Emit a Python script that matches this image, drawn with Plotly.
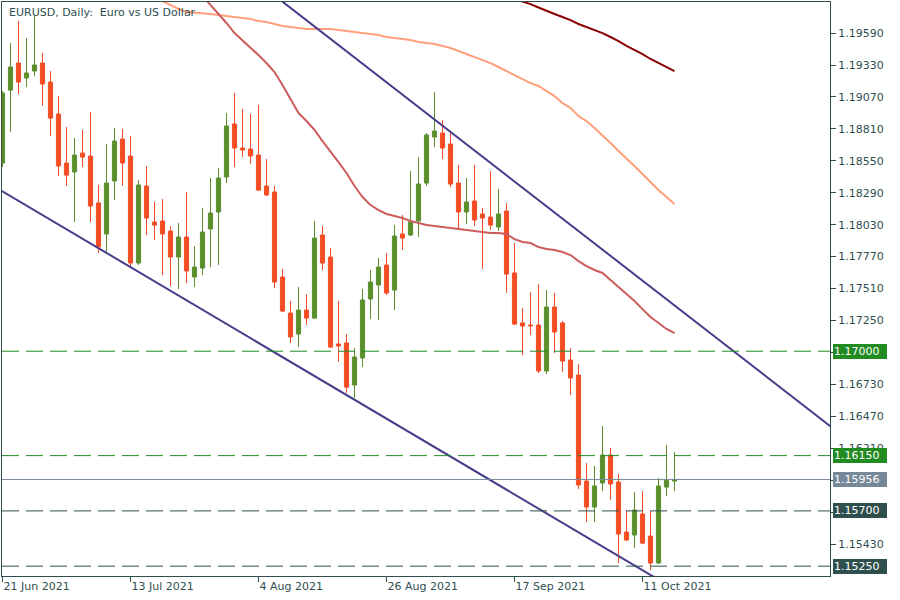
import plotly.graph_objects as go

# ---------------- data ----------------
bar_index = list(range(85))

opens = [1.18532, 1.19126, 1.19346, 1.19224, 1.19281, 1.19346, 1.19191, 1.18931, 1.18532, 1.18459,
         1.18613, 1.18589, 1.18207, 1.17954, 1.18386, 1.18727, 1.18589, 1.17718, 1.18345, 1.18052,
         1.18060, 1.17978, 1.17767, 1.17930, 1.17604, 1.17677, 1.17995, 1.18133, 1.18418, 1.18850,
         1.18654, 1.18646, 1.18597, 1.18345, 1.18296, 1.17604, 1.17311, 1.17140, 1.17335, 1.17270,
         1.17946, 1.17767, 1.17059, 1.17067, 1.16725, 1.16945, 1.17425, 1.17539, 1.17702, 1.17498,
         1.17954, 1.17946, 1.18060, 1.18369, 1.18744, 1.18776, 1.18687, 1.18369, 1.18133, 1.18223,
         1.18117, 1.18092, 1.18011, 1.18141, 1.17637, 1.17230, 1.17213, 1.17213, 1.16839, 1.17360,
         1.17230, 1.16928, 1.16806, 1.15943, 1.15732, 1.15927, 1.16155, 1.15935, 1.15528, 1.15504,
         1.15675, 1.15495, 1.15276, 1.15894, 1.15943]

highs = [1.19118, 1.19509, 1.19688, 1.19550, 1.19737, 1.19428, 1.19281, 1.19077, 1.18825, 1.18736,
         1.18801, 1.18947, 1.18353, 1.18687, 1.18817, 1.18809, 1.18752, 1.18394, 1.18508, 1.18215,
         1.18239, 1.18019, 1.18044, 1.18296, 1.17856, 1.18166, 1.18410, 1.18491, 1.18939, 1.19102,
         1.18972, 1.18931, 1.19004, 1.18565, 1.18345, 1.17669, 1.17409, 1.17523, 1.17466, 1.18060,
         1.18019, 1.17840, 1.17409, 1.17140, 1.17026, 1.17506, 1.17661, 1.17759, 1.17799, 1.18027,
         1.18109, 1.18467, 1.18581, 1.18776, 1.19110, 1.18882, 1.18784, 1.18516, 1.18410, 1.18516,
         1.18166, 1.18467, 1.18320, 1.18207, 1.17881, 1.17352, 1.17482, 1.17547, 1.17498, 1.17474,
         1.17246, 1.17026, 1.16896, 1.16090, 1.16065, 1.16391, 1.16212, 1.16000, 1.15707, 1.15854,
         1.15862, 1.15699, 1.15968, 1.16236, 1.16179]

lows = [1.18500, 1.18784, 1.19094, 1.19151, 1.19240, 1.18996, 1.18752, 1.18426, 1.18345, 1.18052,
        1.18500, 1.18052, 1.17799, 1.17808, 1.18231, 1.18345, 1.17693, 1.17702, 1.17946, 1.17905,
        1.17620, 1.17531, 1.17506, 1.17555, 1.17523, 1.17620, 1.17685, 1.17702, 1.18369, 1.18500,
        1.18581, 1.18524, 1.18304, 1.18263, 1.17514, 1.17319, 1.17067, 1.17034, 1.17213, 1.17262,
        1.17661, 1.17026, 1.16912, 1.16660, 1.16619, 1.16871, 1.17262, 1.17254, 1.17458, 1.17335,
        1.17824, 1.17938, 1.17930, 1.18345, 1.18662, 1.18565, 1.18337, 1.17995, 1.18035, 1.18019,
        1.17669, 1.17987, 1.17978, 1.17474, 1.17213, 1.16969, 1.17132, 1.16822, 1.16814, 1.16985,
        1.16831, 1.16643, 1.15878, 1.15609, 1.15609, 1.15862, 1.15789, 1.15276, 1.15455, 1.15398,
        1.15430, 1.15219, 1.15268, 1.15821, 1.15862]

closes = [1.19102, 1.19314, 1.19191, 1.19265, 1.19330, 1.19175, 1.18898, 1.18508, 1.18434, 1.18597,
          1.18581, 1.18182, 1.17848, 1.18369, 1.18711, 1.18532, 1.17718, 1.18353, 1.18084, 1.18027,
          1.17954, 1.17767, 1.17930, 1.17653, 1.17685, 1.17970, 1.18125, 1.18410, 1.18833, 1.18654,
          1.18638, 1.18589, 1.18312, 1.18272, 1.17563, 1.17327, 1.17116, 1.17335, 1.17270, 1.17921,
          1.17718, 1.17034, 1.17042, 1.16708, 1.16953, 1.17417, 1.17563, 1.17685, 1.17474, 1.17938,
          1.17921, 1.18052, 1.18361, 1.18760, 1.18793, 1.18654, 1.18361, 1.18133, 1.18215, 1.18068,
          1.18084, 1.18027, 1.18117, 1.17628, 1.17221, 1.17205, 1.17205, 1.16839, 1.17360, 1.17156,
          1.16920, 1.16782, 1.15911, 1.15732, 1.15903, 1.16155, 1.15919, 1.15512, 1.15463, 1.15707,
          1.15438, 1.15276, 1.15903, 1.15951, 1.15956]

# moving averages (visible parts)
ma_slow_bars = list(range(64, 85))
ma_slow = [1.19867, 1.19847, 1.19826, 1.19798, 1.19769, 1.19745, 1.19721, 1.19696, 1.19664, 1.19639,
           1.19615, 1.19590, 1.19558, 1.19525, 1.19485, 1.19452, 1.19419, 1.19379, 1.19346, 1.19314,
           1.19281]

ma_mid_bars = list(range(20, 85))
ma_mid = [1.19851, 1.19818, 1.19786, 1.19761, 1.19757, 1.19753, 1.19745, 1.19737, 1.19729, 1.19721,
          1.19712, 1.19704, 1.19688, 1.19680, 1.19664, 1.19647, 1.19639, 1.19631, 1.19623, 1.19623,
          1.19623, 1.19623, 1.19615, 1.19607, 1.19598, 1.19590, 1.19582, 1.19574, 1.19558, 1.19550,
          1.19542, 1.19533, 1.19517, 1.19509, 1.19501, 1.19485, 1.19468, 1.19444, 1.19419, 1.19395,
          1.19371, 1.19346, 1.19314, 1.19281, 1.19248, 1.19216, 1.19183, 1.19159, 1.19118, 1.19077,
          1.19020, 1.18980, 1.18915, 1.18874, 1.18817, 1.18760, 1.18695, 1.18630, 1.18573, 1.18508,
          1.18443, 1.18377, 1.18312, 1.18255, 1.18198]

ma_fast_bars = list(range(25, 85))
ma_fast = [1.19892, 1.19818, 1.19753, 1.19672, 1.19590, 1.19533, 1.19476, 1.19411, 1.19346, 1.19273,
           1.19167, 1.19053, 1.18939, 1.18874, 1.18801, 1.18711, 1.18630, 1.18540, 1.18451, 1.18345,
           1.18255, 1.18190, 1.18149, 1.18117, 1.18101, 1.18084, 1.18060, 1.18044, 1.18027, 1.18019,
           1.18011, 1.18003, 1.17995, 1.17987, 1.17978, 1.17970, 1.17962, 1.17962, 1.17954, 1.17913,
           1.17889, 1.17881, 1.17848, 1.17832, 1.17824, 1.17808, 1.17783, 1.17734, 1.17693, 1.17661,
           1.17637, 1.17580, 1.17523, 1.17466, 1.17409, 1.17343, 1.17278, 1.17230, 1.17181, 1.17148]

# trend lines (anchor bar, anchor price)
upper_trend_bars = [35, 104]
upper_trend_prices = [1.19846, 1.16363]
lower_trend_bars = [-1, 82]
lower_trend_prices = [1.18340, 1.15140]

# horizontal levels
levels_green = [1.17000, 1.16150]
levels_dark = [1.15700, 1.15250]
current_price = 1.15956

# axis ticks (labels covered by the level boxes are left blank)
y_ticks = [1.15430, 1.15690, 1.15950, 1.16210, 1.16470, 1.16730, 1.16990, 1.17250, 1.17510,
           1.17770, 1.18030, 1.18290, 1.18550, 1.18810, 1.19070, 1.19330, 1.19590]
y_ticks_hidden = [1.15690, 1.15950, 1.16990]
x_tick_bars = [0, 16, 32, 48, 64, 80]
x_tick_labels = ["21 Jun 2021", "13 Jul 2021", "4 Aug 2021", "26 Aug 2021", "17 Sep 2021", "11 Oct 2021"]

# ---------------- style ----------------
UP = "#5a8f2c"
DOWN = "#f44c24"
FRAME = "#2f4f4f"
GREEN_LVL = "#228b22"
DARK_LVL = "#2f4f4f"
GRAY_LVL = "#778899"
FONT = "DejaVu Sans"

fig = go.Figure()

# wicks
for want_up, col in ((True, UP), (False, DOWN)):
    wx, wy = [], []
    for i, o, h, l, c in zip(bar_index, opens, highs, lows, closes):
        if (c >= o) == want_up:
            wx += [i, i, None]
            wy += [l, h, None]
    fig.add_trace(go.Scatter(x=wx, y=wy, mode="lines", line=dict(color=col, width=1),
                             hoverinfo="skip"))

# bodies
body_base = [min(o, c) for o, c in zip(opens, closes)]
body_len = [abs(c - o) for o, c in zip(opens, closes)]
body_col = [UP if c >= o else DOWN for o, c in zip(opens, closes)]
fig.add_trace(go.Bar(x=bar_index, y=body_len, base=body_base, width=0.52,
                     marker=dict(color=body_col, line=dict(color=body_col, width=1)),
                     hoverinfo="skip"))

# moving averages
fig.add_trace(go.Scatter(x=ma_slow_bars, y=ma_slow, mode="lines",
                         line=dict(color="#8b0000", width=2), hoverinfo="skip"))
fig.add_trace(go.Scatter(x=ma_mid_bars, y=ma_mid, mode="lines",
                         line=dict(color="#ffa07a", width=2), hoverinfo="skip"))
fig.add_trace(go.Scatter(x=ma_fast_bars, y=ma_fast, mode="lines",
                         line=dict(color="#cd5c5c", width=2), hoverinfo="skip"))

# trend lines
fig.add_trace(go.Scatter(x=upper_trend_bars, y=upper_trend_prices, mode="lines",
                         line=dict(color="#483d8b", width=2), hoverinfo="skip"))
fig.add_trace(go.Scatter(x=lower_trend_bars, y=lower_trend_prices, mode="lines",
                         line=dict(color="#483d8b", width=2), hoverinfo="skip"))

shapes = []
annotations = []


def level_label(v, col):
    return dict(x=1, xref="paper", xanchor="left", xshift=3, y=v, yref="y", yanchor="middle",
                text=f"{v:.5f}", showarrow=False, bgcolor=col, borderpad=1, borderwidth=0,
                width=52, height=13, align="left",
                font=dict(family=FONT, size=11, color="white"))


for v in levels_green:
    shapes.append(dict(type="line", xref="paper", x0=0, x1=1, yref="y", y0=v, y1=v,
                       line=dict(color=GREEN_LVL, width=1, dash="17px,7px")))
    annotations.append(level_label(v, GREEN_LVL))
for v in levels_dark:
    shapes.append(dict(type="line", xref="paper", x0=0, x1=1, yref="y", y0=v, y1=v,
                       line=dict(color=DARK_LVL, width=1, dash="17px,7px")))
    annotations.append(level_label(v, DARK_LVL))
shapes.append(dict(type="line", xref="paper", x0=0, x1=1, yref="y", y0=current_price, y1=current_price,
                   line=dict(color=GRAY_LVL, width=1)))
annotations.append(level_label(current_price, GRAY_LVL))

annotations.append(dict(x=0, xref="paper", xanchor="left", xshift=5, y=1, yref="paper",
                        yanchor="top", yshift=-2, showarrow=False,
                        text="EURUSD, Daily:\u00a0 Euro vs US Dollar",
                        font=dict(family=FONT, size=11, color=FRAME)))

fig.update_layout(
    width=900, height=600,
    margin=dict(l=2, r=70, t=2, b=24, autoexpand=False),
    paper_bgcolor="white", plot_bgcolor="white",
    showlegend=False, hovermode=False, barmode="overlay",
    shapes=shapes, annotations=annotations,
    font=dict(family=FONT, size=11, color=FRAME),
)
fig.update_xaxes(range=[-0.0625, 103.4375], tickvals=x_tick_bars, ticktext=x_tick_labels,
                 ticks="outside", ticklen=5, tickcolor=FRAME, tickwidth=1,
                 ticklabelposition="outside right",
                 showline=True, linecolor=FRAME, linewidth=1, mirror=True,
                 showgrid=False, zeroline=False,
                 tickfont=dict(family=FONT, size=11, color=FRAME))
fig.update_yaxes(range=[1.15170, 1.19843], side="right", tickvals=y_ticks,
                 ticktext=["" if v in y_ticks_hidden else f"{v:.5f}" for v in y_ticks],
                 ticks="outside", ticklen=5, tickcolor=FRAME, tickwidth=1,
                 showline=True, linecolor=FRAME, linewidth=1, mirror=True,
                 showgrid=False, zeroline=False,
                 tickfont=dict(family=FONT, size=11, color=FRAME))

fig.write_html("out.html", config={"displayModeBar": False},
               post_script="document.body.style.margin='0px';document.body.style.overflow='hidden';")
